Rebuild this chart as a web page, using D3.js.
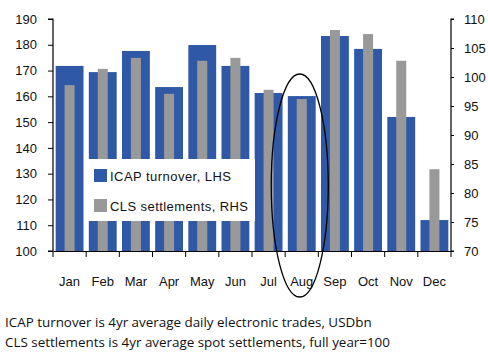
<!DOCTYPE html>
<html lang="en">
<head>
  <title>ICAP vs CLS</title>
  <script src="https://cdn.jsdelivr.net/npm/d3@7"></script>
  <style>
    body { margin: 0; background: #fff; }
    text { font-family: "Liberation Sans", Arial, sans-serif; }
    text.note { font-family: "Open Sans", sans-serif; }
  </style>
</head>
<body>
  <script>
    // data
    const months = ["Jan", "Feb", "Mar", "Apr", "May", "Jun", "Jul", "Aug", "Sep", "Oct", "Nov", "Dec"];
    const icapTurnover = [171.8, 169.4, 177.6, 163.6, 179.9, 171.8, 161.3, 160.1, 183.4, 178.4, 152.0, 112.0];
    const clsSettlements = [98.6, 101.4, 103.3, 97.1, 102.8, 103.3, 97.8, 96.2, 108.1, 107.4, 102.8, 84.1];
    const leftTicks = [100, 110, 120, 130, 140, 150, 160, 170, 180, 190];
    const rightTicks = [70, 75, 80, 85, 90, 95, 100, 105, 110];
    const legendItems = ["ICAP turnover, LHS", "CLS settlements, RHS"];
    const notes = [
      "ICAP turnover is 4yr average daily electronic trades, USDbn",
      "CLS settlements is 4yr average spot settlements, full year=100"
    ];

    const blue = "#2f59a7", grey = "#999999";
    const width = 488, height = 353;
    const margins = { left: 53, top: 19, right: 37, bottom: 102 };
    const w = width - margins.left - margins.right;
    const h = height - margins.top - margins.bottom;

    const svg = d3.select("body").append("svg")
      .attr("width", width)
      .attr("height", height);
    const g = svg.append("g")
      .attr("transform", `translate(${margins.left},${margins.top})`);

    // scales
    const x = d3.scaleBand().domain(months).range([0, w]).paddingInner(0).paddingOuter(0);
    const yL = d3.scaleLinear().domain([100, 190]).range([h, 0]);
    const yR = d3.scaleLinear().domain([70, 110]).range([h, 0]);

    const blueW = x.bandwidth() * 0.84;
    const greyW = 10;

    // bars
    g.selectAll(".icap").data(months).join("rect")
      .attr("class", "icap")
      .attr("x", (d) => x(d) + (x.bandwidth() - blueW) / 2)
      .attr("y", (d, i) => yL(icapTurnover[i]))
      .attr("width", blueW)
      .attr("height", (d, i) => h - yL(icapTurnover[i]))
      .attr("fill", blue);

    g.selectAll(".cls").data(months).join("rect")
      .attr("class", "cls")
      .attr("x", (d) => x(d) + (x.bandwidth() - greyW) / 2)
      .attr("y", (d, i) => yR(clsSettlements[i]))
      .attr("width", greyW)
      .attr("height", (d, i) => h - yR(clsSettlements[i]))
      .attr("fill", grey);

    // axes
    const leftAxis = g.append("g")
      .call(d3.axisLeft(yL).tickValues(leftTicks).tickSize(5).tickPadding(11));
    const rightAxis = g.append("g")
      .attr("transform", `translate(${w},0)`)
      .call(d3.axisRight(yR).tickValues(rightTicks).tickSize(3).tickPadding(10));
    const xAxis = g.append("g")
      .attr("transform", `translate(0,${h})`)
      .call(d3.axisBottom(x).tickSize(0).tickPadding(26));
    // ticks at band boundaries
    const edges = months.map(m => x(m)).concat([w]);
    xAxis.selectAll(".edge").data(edges).join("line")
      .attr("class", "edge")
      .attr("x1", d => d).attr("x2", d => d)
      .attr("y1", 0).attr("y2", 6)
      .attr("stroke", "#000");

    [leftAxis, rightAxis, xAxis].forEach(a => {
      a.selectAll(".domain").attr("stroke", "#000").attr("stroke-width", 1.2);
      a.selectAll("text").attr("font-size", 13).attr("fill", "#111")
        .attr("font-family", "Liberation Sans, Arial, sans-serif");
    });
    leftAxis.select(".domain").attr("d", `M-5,0H0V${h}H-5`);
    rightAxis.select(".domain").attr("d", `M3,0H0V${h}H3`);

    // legend box
    const lg = svg.append("g");
    lg.append("rect")
      .attr("x", 84).attr("y", 159).attr("width", 171).attr("height", 62)
      .attr("fill", "#fff");
    const legendLen = [121, 138];
    legendItems.forEach((t, i) => {
      lg.append("rect")
        .attr("x", 94).attr("y", 169 + i * 30)
        .attr("width", 13).attr("height", 13)
        .attr("fill", i === 0 ? blue : grey);
      lg.append("text")
        .attr("x", 110).attr("y", 176 + i * 30)
        .attr("dominant-baseline", "central")
        .attr("font-size", 13).attr("fill", "#111")
        .attr("textLength", legendLen[i])
        .attr("lengthAdjust", "spacing")
        .text(t);
    });

    // ellipse round August
    svg.append("ellipse")
      .attr("cx", margins.left + x("Aug") + x.bandwidth() / 2 - 2)
      .attr("cy", 185.5)
      .attr("rx", 28.5).attr("ry", 111.5)
      .attr("fill", "none").attr("stroke", "#000").attr("stroke-width", 1.3);

    // footnotes
    svg.selectAll(".note").data(notes).join("text")
      .attr("class", "note")
      .attr("x", 5).attr("y", (d, i) => 327 + i * 20)
      .attr("font-size", 13.4)
      .attr("fill", "#111")
      .text(d => d);
  </script>
</body>
</html>
